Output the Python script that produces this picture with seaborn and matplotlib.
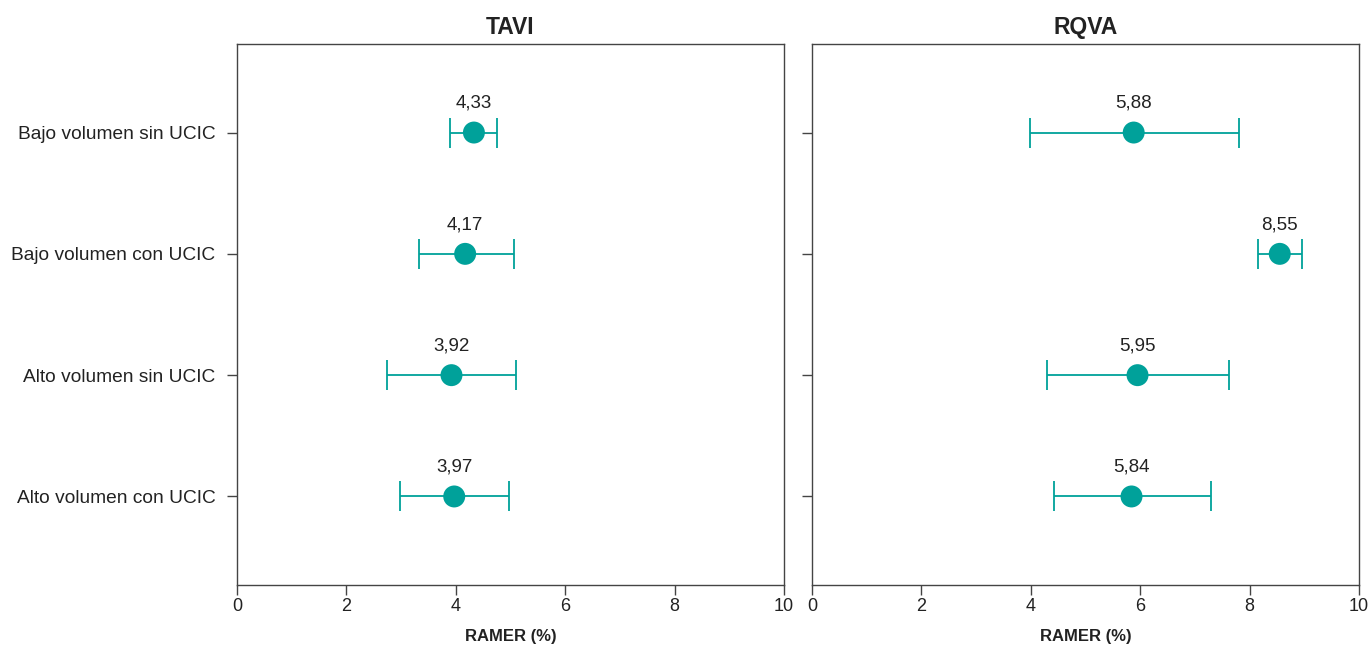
import numpy as np
import pandas as pd
import seaborn as sns
import matplotlib
matplotlib.use("Agg")
import matplotlib.pyplot as plt

categories = ["Bajo volumen sin UCIC", "Bajo volumen con UCIC",
              "Alto volumen sin UCIC", "Alto volumen con UCIC"]
panels = ["TAVI", "RQVA"]

tavi_value = [4.33, 4.17, 3.92, 3.97]
tavi_low = [3.89, 3.33, 2.75, 2.97]
tavi_high = [4.75, 5.06, 5.10, 4.98]

rqva_value = [5.88, 8.55, 5.95, 5.84]
rqva_low = [3.99, 8.15, 4.30, 4.42]
rqva_high = [7.81, 8.95, 7.62, 7.29]

labels_tavi = ["4,33", "4,17", "3,92", "3,97"]
labels_rqva = ["5,88", "8,55", "5,95", "5,84"]

sns.set_style("ticks")
plt.rcParams['font.family'] = ['Liberation Sans', 'DejaVu Sans']

teal = "#00A19A"
dark = "#444444"

fig = plt.figure(figsize=(13.71, 6.46), dpi=100)
ax1 = fig.add_axes([0.1729, 0.0944, 0.399, 0.8375])
ax2 = fig.add_axes([0.5923, 0.0944, 0.399, 0.8375])

data = [
    (ax1, "TAVI", tavi_value, tavi_low, tavi_high, labels_tavi),
    (ax2, "RQVA", rqva_value, rqva_low, rqva_high, labels_rqva),
]

for ax, title, vals, lo, hi, labs in data:
    df = pd.DataFrame({"cat": categories, "val": vals, "lo": lo, "hi": hi})
    ypos = np.arange(len(categories))
    xerr = [df["val"] - df["lo"], df["hi"] - df["val"]]
    ax.errorbar(df["val"], ypos, xerr=xerr, fmt="none", ecolor=teal,
                elinewidth=1.3, capsize=11, capthick=1.3, zorder=2)
    sns.scatterplot(x=df["val"], y=ypos, ax=ax, color=teal, s=250,
                    edgecolor="none", zorder=3, legend=False)
    for x, y, t in zip(df["val"], ypos, labs):
        ax.annotate(t, (x, y), xytext=(0, 15), textcoords="offset points",
                    ha="center", va="bottom", fontsize=13.5, color="#222222")
    ax.set_xlim(0, 10)
    ax.set_ylim(3.73, -0.73)
    ax.set_xticks([0, 2, 4, 6, 8, 10])
    ax.set_yticks(ypos)
    ax.set_title(title, fontsize=16.5, fontweight="bold", color="#222222", pad=7)
    ax.set_xlabel("RAMER (%)", fontsize=12, fontweight="bold", color="#222222",
                  labelpad=10)
    ax.set_ylabel("")
    for sp in ax.spines.values():
        sp.set_visible(True)
        sp.set_color(dark)
        sp.set_linewidth(1.0)
    ax.tick_params(axis="both", direction="out", length=7.5, width=1,
                   color=dark, labelsize=13, labelcolor="#222222",
                   bottom=True, left=True)
    ax.tick_params(axis="y", pad=8, labelsize=13.8)
    ax.tick_params(axis="x", pad=2)

ax1.set_yticklabels(categories)
ax2.set_yticklabels([])

fig.savefig("out.png", dpi=100)
